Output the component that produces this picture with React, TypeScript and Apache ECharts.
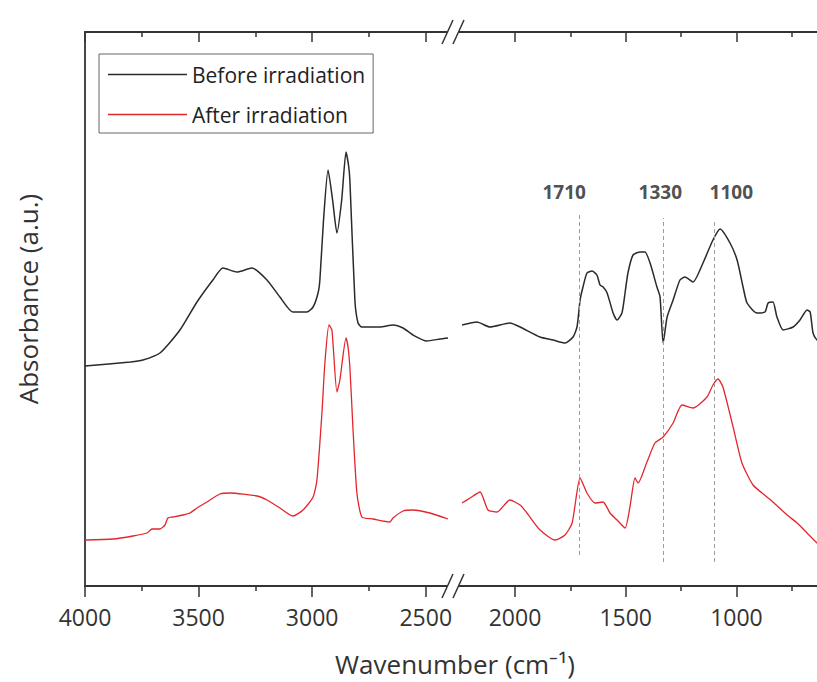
import React, { useEffect, useRef } from 'react';
import * as echarts from 'echarts';

// ---- data (wavenumber in cm-1, absorbance in a.u.) ----
const blackLeftWn = [4000, 3800, 3745, 3670, 3582, 3507, 3437, 3393, 3331, 3265, 3199, 3142, 3085, 3023, 2996, 2974, 2966, 2950, 2930, 2910, 2891, 2870, 2851, 2840, 2834, 2812, 2798, 2781, 2702, 2644, 2600, 2556, 2495, 2437, 2402];
const blackLeftA = [2.20, 2.24, 2.26, 2.33, 2.56, 2.84, 3.06, 3.18, 3.14, 3.18, 3.06, 2.89, 2.74, 2.74, 2.79, 2.93, 3.06, 3.66, 4.16, 3.86, 3.53, 3.86, 4.34, 4.21, 4.06, 2.86, 2.63, 2.59, 2.59, 2.61, 2.58, 2.51, 2.45, 2.47, 2.48];

const redLeftWn = [4000, 3877, 3789, 3727, 3705, 3670, 3648, 3635, 3613, 3569, 3538, 3507, 3463, 3406, 3362, 3243, 3199, 3142, 3085, 3040, 2996, 2979, 2957, 2944, 2926, 2913, 2891, 2878, 2851, 2842, 2834, 2820, 2803, 2781, 2732, 2658, 2644, 2600, 2556, 2482, 2402];
const redLeftA = [0.46, 0.47, 0.50, 0.53, 0.57, 0.57, 0.61, 0.68, 0.69, 0.71, 0.73, 0.78, 0.84, 0.92, 0.93, 0.90, 0.86, 0.78, 0.70, 0.76, 0.89, 1.06, 1.73, 2.23, 2.61, 2.56, 1.94, 2.06, 2.48, 2.39, 2.19, 1.56, 0.93, 0.69, 0.67, 0.64, 0.68, 0.75, 0.76, 0.73, 0.67];

const blackRightWn = [2239, 2172, 2113, 2023, 1977, 1887, 1828, 1774, 1738, 1720, 1706, 1693, 1675, 1652, 1630, 1616, 1602, 1584, 1557, 1539, 1517, 1503, 1490, 1467, 1435, 1413, 1390, 1359, 1345, 1331, 1313, 1286, 1255, 1232, 1196, 1151, 1106, 1074, 1029, 997, 970, 952, 907, 871, 857, 835, 817, 789, 744, 713, 681, 667, 654, 636, 600];
const blackRightA = [2.61, 2.64, 2.59, 2.63, 2.59, 2.49, 2.46, 2.43, 2.49, 2.59, 2.86, 2.99, 3.13, 3.15, 3.11, 3.01, 2.99, 2.93, 2.73, 2.66, 2.73, 2.93, 3.13, 3.31, 3.34, 3.34, 3.23, 2.99, 2.89, 2.43, 2.69, 2.86, 3.06, 3.09, 3.04, 3.23, 3.46, 3.57, 3.43, 3.26, 2.99, 2.83, 2.73, 2.74, 2.83, 2.84, 2.69, 2.56, 2.59, 2.66, 2.76, 2.74, 2.53, 2.46, 2.41];

const redRightWn = [2239, 2203, 2158, 2122, 2081, 2023, 1977, 1946, 1887, 1819, 1774, 1742, 1706, 1675, 1639, 1602, 1571, 1539, 1503, 1481, 1458, 1444, 1404, 1368, 1331, 1286, 1246, 1196, 1133, 1106, 1083, 1061, 1015, 975, 925, 862, 835, 771, 726, 681, 636, 600];
const redRightA = [0.83, 0.88, 0.94, 0.76, 0.74, 0.86, 0.81, 0.73, 0.56, 0.46, 0.51, 0.63, 1.08, 0.93, 0.83, 0.84, 0.73, 0.66, 0.58, 0.79, 1.08, 1.03, 1.24, 1.43, 1.49, 1.63, 1.81, 1.78, 1.89, 2.01, 2.07, 1.99, 1.59, 1.23, 1.01, 0.89, 0.84, 0.71, 0.63, 0.53, 0.43, 0.36];

const seriesNames = ['Before irradiation', 'After irradiation'];

// annotation lines
const peakLabels = ['1710', '1330', '1100'];
const peakWn = [1710, 1330, 1100];
const peakTop = [3.73, 3.68, 3.66];
const peakBottom = [0.31, 0.24, 0.24];
const peakLabelA = 3.94;

// axes
const leftRange = [2380, 4000];
const rightRange = [600, 2280];
const leftMajor = [4000, 3500, 3000, 2500];
const leftMinor = [3750, 3250, 2750];
const rightMajor = [2000, 1500, 1000];
const rightMinor = [1750, 1250, 750];
const yRange = [0, 5.54];

// ---- styles ----
const FONT = 'Open Sans';
const AX = '#333333';
const BLACK = '#2a2a2a';
const RED = '#e3262d';
const labelShift = [-15, -3, 17];

const zip = (xs: number[], ys: number[]) => xs.map((x, i) => [x, ys[i]]);

function xAxisDef(grid: number, range: number[], position: 'top' | 'bottom', ticks: number[], major: boolean, labels: boolean) {
  return {
    type: 'value',
    gridIndex: grid,
    position,
    min: range[0],
    max: range[1],
    inverse: true,
    axisLine: { show: major, onZero: false, lineStyle: { color: AX, width: 1.8 } },
    axisTick: {
      show: true,
      customValues: ticks,
      inside: position === 'top',
      length: major ? (position === 'top' ? 10 : 11) : 5,
      lineStyle: { color: AX, width: 1.5 },
    },
    axisLabel: labels
      ? {
          show: true, customValues: ticks, fontSize: 23, fontFamily: FONT, color: '#333', margin: 19,
          formatter: (v: number) => String(v),
        }
      : { show: false },
    splitLine: { show: false },
  };
}

function buildOption() {
  const lineBase = {
    type: 'line',
    showSymbol: false,
    symbol: 'none',
    smooth: 0.2,
    silent: true,
  };
  return {
    animation: false,
    backgroundColor: '#ffffff',
    grid: [
      { left: 85, top: 32, width: 368, height: 554 },
      { left: 453, top: 32, width: 372, height: 554 },
    ],
    xAxis: [
      xAxisDef(0, leftRange, 'bottom', leftMajor, true, true),
      xAxisDef(0, leftRange, 'bottom', leftMinor, false, false),
      xAxisDef(0, leftRange, 'top', leftMajor, true, false),
      xAxisDef(0, leftRange, 'top', leftMinor, false, false),
      xAxisDef(1, rightRange, 'bottom', rightMajor, true, true),
      xAxisDef(1, rightRange, 'bottom', rightMinor, false, false),
      xAxisDef(1, rightRange, 'top', rightMajor, true, false),
      xAxisDef(1, rightRange, 'top', rightMinor, false, false),
    ],
    yAxis: [
      {
        type: 'value', gridIndex: 0, min: yRange[0], max: yRange[1],
        axisLine: { show: true, lineStyle: { color: AX, width: 1.8 } },
        axisTick: { show: false }, axisLabel: { show: false }, splitLine: { show: false },
      },
      {
        type: 'value', gridIndex: 1, position: 'right', min: yRange[0], max: yRange[1],
        axisLine: { show: true, lineStyle: { color: AX, width: 1.8 } },
        axisTick: { show: false }, axisLabel: { show: false }, splitLine: { show: false },
      },
    ],
    legend: {
      data: seriesNames.map((n) => ({ name: n, icon: 'rect' })),
      orient: 'vertical',
      left: 99,
      top: 54,
      padding: [10, 8, 8, 9],
      itemWidth: 79,
      itemHeight: 1.6,
      itemGap: 19,
      borderColor: '#666',
      borderWidth: 1,
      borderRadius: 0,
      textStyle: { fontSize: 21, fontFamily: FONT, color: '#222', lineHeight: 21 },
    },
    series: [
      { ...lineBase, name: seriesNames[0], xAxisIndex: 0, yAxisIndex: 0, data: zip(blackLeftWn, blackLeftA), color: BLACK, lineStyle: { color: BLACK, width: 1.5 } },
      {
        ...lineBase, name: seriesNames[0], xAxisIndex: 4, yAxisIndex: 1, data: zip(blackRightWn, blackRightA), color: BLACK, lineStyle: { color: BLACK, width: 1.5 },
        markLine: {
          silent: true,
          symbol: ['none', 'none'],
          label: { show: false },
          lineStyle: { type: [4, 3], color: '#9c9c9c', width: 1 },
          data: peakWn.map((w, i) => [{ coord: [w, peakBottom[i]] }, { coord: [w, peakTop[i]] }]),
        },
      },
      { ...lineBase, name: seriesNames[1], xAxisIndex: 0, yAxisIndex: 0, data: zip(redLeftWn, redLeftA), color: RED, lineStyle: { color: RED, width: 1.3 } },
      { ...lineBase, name: seriesNames[1], xAxisIndex: 4, yAxisIndex: 1, data: zip(redRightWn, redRightA), color: RED, lineStyle: { color: RED, width: 1.3 } },
      {
        type: 'scatter',
        name: 'peaks',
        xAxisIndex: 4,
        yAxisIndex: 1,
        silent: true,
        symbolSize: 1,
        itemStyle: { color: 'rgba(0,0,0,0)' },
        label: {
          show: true, position: 'inside', formatter: '{b}',
          fontSize: 19, fontWeight: 'bold', fontFamily: FONT, color: '#222',
        },
        data: peakWn.map((w, i) => ({ name: peakLabels[i], value: [w, peakLabelA], label: { offset: [labelShift[i], 0] } })),
      },
    ],
    graphic: [
      // axis break marks
      { type: 'rect', z: 100, shape: { x: 447, y: 28, width: 12, height: 8 }, style: { fill: '#fff' } },
      { type: 'rect', z: 100, shape: { x: 447, y: 582, width: 12, height: 8 }, style: { fill: '#fff' } },
      { type: 'line', z: 101, shape: { x1: 442, y1: 44, x2: 453, y2: 20 }, style: { stroke: AX, lineWidth: 1.5 } },
      { type: 'line', z: 101, shape: { x1: 453, y1: 44, x2: 464, y2: 20 }, style: { stroke: AX, lineWidth: 1.5 } },
      { type: 'line', z: 101, shape: { x1: 442, y1: 598, x2: 453, y2: 574 }, style: { stroke: AX, lineWidth: 1.5 } },
      { type: 'line', z: 101, shape: { x1: 453, y1: 598, x2: 464, y2: 574 }, style: { stroke: AX, lineWidth: 1.5 } },
      // axis titles
      {
        type: 'text', z: 101, x: 455, y: 664,
        style: { text: 'Wavenumber (cm⁻¹)', fontSize: 26, fontFamily: FONT, fill: '#333', align: 'center', verticalAlign: 'middle' },
      },
      {
        type: 'text', z: 101, x: 28, y: 299, rotation: Math.PI / 2,
        style: { text: 'Absorbance (a.u.)', fontSize: 26, fontFamily: FONT, fill: '#333', align: 'center', verticalAlign: 'middle' },
      },
    ],
  };
}

export default function App() {
  const ref = useRef<HTMLDivElement>(null);
  useEffect(() => {
    if (!ref.current) return;
    const chart = echarts.init(ref.current, null, { renderer: 'svg' });
    chart.setOption(buildOption() as any);
    return () => chart.dispose();
  }, []);
  return (
    <div style={{ position: 'fixed', left: 0, top: 0, width: 817, height: 682, overflow: 'hidden', background: '#fff' }}>
      <div ref={ref} style={{ width: 840, height: 682 }} />
    </div>
  );
}
